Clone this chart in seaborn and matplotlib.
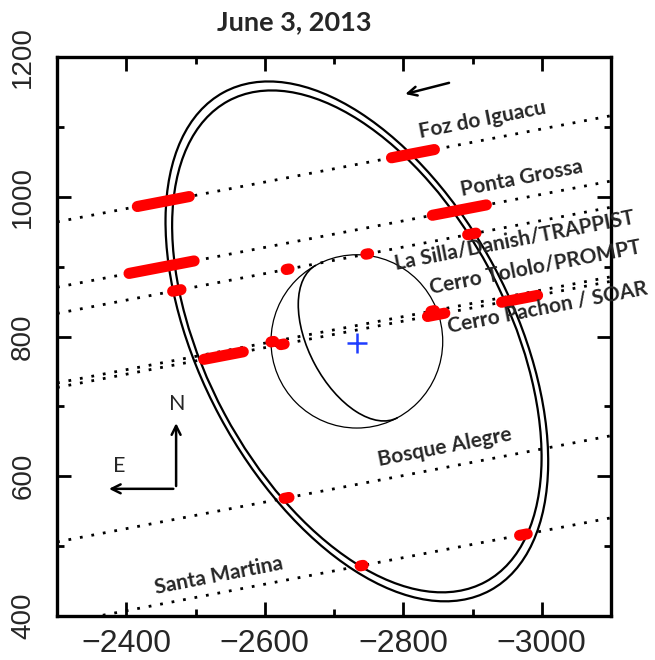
import numpy as np
import pandas as pd
import matplotlib
matplotlib.use("Agg")
import matplotlib.pyplot as plt
from matplotlib.patches import Ellipse, Arc, Circle
from matplotlib.ticker import MultipleLocator
import seaborn as sns

# ------------------------------------------
# data (sky plane, km)
# ------------------------------------------
TITLE = "June 3, 2013"

# shadow tracks of each station: y at x = -2300, common slope
stations = ["Foz do Iguacu", "Ponta Grossa", "La Silla/Danish/TRAPPIST",
            "Cerro Tololo/PROMPT", "Cerro Pachon / SOAR",
            "Bosque Alegre", "Santa Martina"]
chord_y0 = [964, 870.5, 833, 733.5, 727, 506, 388.5]
chord_slope = -0.19
chord_xrange = [-2300, -3100]

# station label anchor (centre of text)
label_x = [-2915, -2971, -2961, -2990, -3008, -2860, -2534]
label_y = [1110, 1026, 938, 900, 842, 641, 458]

# detected events (red): station index, start x, end x
event_station = [0, 0, 1, 1, 2, 2, 2, 2, 3, 3, 4, 4, 4, 4, 5, 6, 6]
event_x1 = [-2416, -2783, -2404, -2842, -2467, -2631, -2746, -2893,
            -2609, -2840, -2512, -2623, -2835, -2942, -2628, -2738, -2968]
event_x2 = [-2491, -2845, -2498, -2920, -2479, -2635, -2750, -2905,
            -2613, -2845, -2569, -2628, -2860, -2994, -2635, -2742, -2979]

# body and rings
body_center = (-2733, 793)
body_radius = 124
ring_radius = [405, 391]      # outer, inner
ring_opening = 0.556          # sin(B)
ring_angle = 61.6             # deg

# motion arrow and compass (tail -> head)
motion_tail = (-2870, 1164)
motion_head = (-2799, 1146)
compass_corner = (-2472, 582)
compass_north = (-2472, 680)
compass_east = (-2371, 582)

# ------------------------------------------
# style
# ------------------------------------------
sns.set_theme(style="ticks")
plt.rcParams['font.family'] = ['Liberation Sans', 'DejaVu Sans']
LABEL_FONT = ['Lato', 'DejaVu Sans']

fig = plt.figure(figsize=(6.55, 6.60), dpi=100)
ax = fig.add_axes([57 / 655, 1 - 616 / 660, 554 / 655, 559 / 660])

# dotted shadow tracks
for y0 in chord_y0:
    xs = np.array(chord_xrange, dtype=float)
    ys = y0 + chord_slope * (xs - chord_xrange[0])
    ax.plot(xs, ys, color='black', lw=2.0, linestyle=(0, (1, 3.2)),
            dash_capstyle='butt', zorder=2)

# red detections
rows = []
for i, (s, x1, x2) in enumerate(zip(event_station, event_x1, event_x2)):
    for xv in (x1, x2):
        rows.append({"seg": i, "x": xv,
                     "y": chord_y0[s] + chord_slope * (xv - chord_xrange[0])})
ev = pd.DataFrame(rows)
sns.lineplot(data=ev, x="x", y="y", units="seg", estimator=None, sort=False,
             color="#ff0000", lw=8, solid_capstyle="round", ax=ax,
             legend=False, zorder=4)

# rings
for r in ring_radius:
    ax.add_patch(Ellipse(body_center, 2 * r, 2 * r * ring_opening,
                         angle=ring_angle, fill=False, ec='black', lw=1.6,
                         zorder=3))

# body and its equator
ax.add_patch(Circle(body_center, body_radius, fill=False, ec='black',
                    lw=0.9, zorder=3))
ax.add_patch(Arc(body_center, 2 * body_radius, 2 * body_radius * ring_opening,
                 angle=ring_angle, theta1=180, theta2=360, ec='black',
                 lw=1.2, zorder=3))
ax.plot([body_center[0]], [body_center[1] - 3], marker='+', color='#1f3dff',
        markersize=15, mew=1.8, zorder=5)

# station labels
for name, lx, ly in zip(stations, label_x, label_y):
    ax.text(lx, ly, name, rotation=11, rotation_mode='anchor',
            ha='center', va='center', fontsize=15, fontweight='bold',
            family=LABEL_FONT, clip_on=False, zorder=6)

# arrows
arrow = dict(arrowstyle='->', lw=1.8, color='black', mutation_scale=16)
ax.annotate('', xy=motion_head, xytext=motion_tail, arrowprops=arrow)
ax.annotate('', xy=compass_north, xytext=compass_corner, arrowprops=arrow)
ax.annotate('', xy=compass_east, xytext=compass_corner, arrowprops=arrow)
ax.text(compass_north[0] - 2, compass_north[1] + 24, 'N', ha='center',
        va='center', fontsize=15.5, family=LABEL_FONT)
ax.text(compass_east[0] - 19, compass_east[1] + 33, 'E', ha='center',
        va='center', fontsize=15.5, family=LABEL_FONT)

# axes
ax.set_xlim(-2300, -3100)
ax.set_ylim(400, 1200)
ax.xaxis.set_major_locator(MultipleLocator(200))
ax.xaxis.set_minor_locator(MultipleLocator(100))
ax.yaxis.set_major_locator(MultipleLocator(200))
ax.yaxis.set_minor_locator(MultipleLocator(100))
ax.tick_params(which='both', direction='in', top=True, right=True,
               width=2.0, color='black')
ax.tick_params(which='major', length=10)
ax.tick_params(which='minor', length=5)
ax.tick_params(axis='x', labelsize=23, pad=9)
ax.tick_params(axis='y', labelsize=20, pad=15)
for lab in ax.get_yticklabels():
    lab.set_rotation(90)
    lab.set_va('center')
for sp in ax.spines.values():
    sp.set_linewidth(2.4)
    sp.set_color('black')
    sp.set_visible(True)
ax.set_xlabel('')
ax.set_ylabel('')
ax.grid(False)

fig.text(294 / 655, 1 - 22 / 660, TITLE, ha='center', va='center',
         fontsize=19.5, fontweight='bold', family=LABEL_FONT)

fig.savefig('out.png', dpi=100)
